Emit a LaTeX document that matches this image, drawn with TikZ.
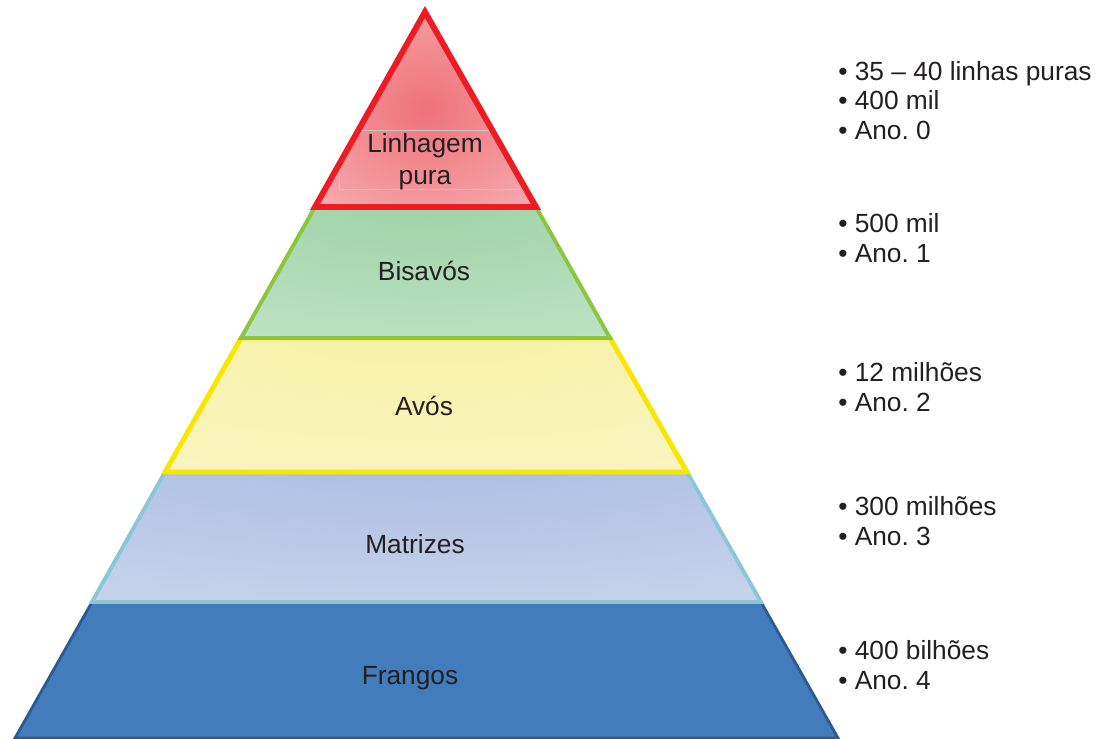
\documentclass[tikz,border=0pt]{standalone}
\usepackage{fontspec}
\setmainfont{Liberation Sans}
\usepackage{xcolor}
\usepackage{tikz}
\usetikzlibrary{
		backgrounds,
		calc
	}
\frenchspacing
\definecolor{textgray}{HTML}{231F20}
\definecolor{red-line}{HTML}{ED1C24}
\definecolor{red-inner}{HTML}{EF7279}
\definecolor{red-outer}{HTML}{FBD5D7}
\definecolor{green-line}{HTML}{8CC63F}
\definecolor{green-inner}{HTML}{9AD1A2}
\definecolor{green-outer}{HTML}{DDF0E1}
\definecolor{yellow-line}{HTML}{F7E600}
\definecolor{yellow-inner}{HTML}{F7F0A4}
\definecolor{yellow-outer}{HTML}{FCF9D6}
\definecolor{lightblue-line}{HTML}{8DC7D7}
\definecolor{lightblue-inner}{HTML}{A9BDE0}
\definecolor{lightblue-outer}{HTML}{DFE6F4}
\definecolor{darkblue-line}{HTML}{2B5B90}
\definecolor{darkblue-fill}{HTML}{437CBB}
\pgfdeclareradialshading{red-glow}{\pgfpoint{0bp}{0bp}}{%
	color(0bp)=(red-inner); color(60bp)=(red-outer); color(100bp)=(red-outer)}
\pgfdeclareradialshading{green-glow}{\pgfpoint{0bp}{35bp}}{%
	color(0bp)=(green-inner); color(95bp)=(green-outer); color(120bp)=(green-outer)}
\pgfdeclareradialshading{yellow-glow}{\pgfpoint{0bp}{35bp}}{%
	color(0bp)=(yellow-inner); color(95bp)=(yellow-outer); color(120bp)=(yellow-outer)}
\pgfdeclareradialshading{lightblue-glow}{\pgfpoint{0bp}{35bp}}{%
	color(0bp)=(lightblue-inner); color(95bp)=(lightblue-outer); color(120bp)=(lightblue-outer)}
\tikzset{%
		layer/.style = {
			line join = miter
		},
		layerlabel/.style = {
			font = \fontsize{18.7}{22.7}\selectfont,
			text = textgray,
			align = center,
			inner sep = 0pt
		},
		infolist/.style = {
			font = \fontsize{18.7}{20.9}\selectfont,
			text = textgray,
			align = left,
			anchor = north west,
			inner sep = 0pt
		}
	}

\begin{document}
\begin{tikzpicture}[x=0.025cm, y=-0.025cm]
		\useasboundingbox (0, 0) rectangle (1100, 738);
		% Layers, from the base upwards
		\draw [
			layer,
			fill = darkblue-fill,
			draw = darkblue-line,
			line width = 2pt
		]
			(15, 738) -- (92, 602) -- (761, 602) -- (838, 738) -- cycle;
		\shadedraw [
			layer,
			shading = lightblue-glow,
			draw = lightblue-line,
			line width = 2.8pt
		]
			(92, 602) -- (165, 472) -- (687, 472) -- (761, 602) -- cycle;
		\shadedraw [
			layer,
			shading = yellow-glow,
			draw = yellow-line,
			line width = 3.5pt
		]
			(165, 472) -- (241, 338) -- (610, 338) -- (687, 472) -- cycle;
		\shadedraw [
			layer,
			shading = green-glow,
			draw = green-line,
			line width = 2.8pt
		]
			(241, 338) -- (315, 207) -- (536, 207) -- (610, 338) -- cycle;
		\shade [shading = red-glow]
			(425, 12) -- (536, 207) -- (315, 207) -- cycle;
		\begin{scope}
			\clip (425, 12) -- (536, 207) -- (315, 207) -- cycle;
			\draw [gray!45, line width = 0.3pt] (339, 130) rectangle (524, 189);
		\end{scope}
		\draw [
			layer,
			draw = red-line,
			line width = 4.2pt
		]
			(425, 12) -- (536, 207) -- (315, 207) -- cycle;

		\node [layerlabel] (pura) at (425, 162) {Linhagem\\pura};
		\node [layerlabel] (bisavos) at (424, 271) {Bisavós};
		\node [layerlabel] (avos) at (424, 406) {Avós};
		\node [layerlabel] (matrizes) at (415, 544) {Matrizes};
		\node [layerlabel] (frangos) at (410, 678) {Frangos};

		% Figures per generation
		\node [infolist] (info-pura) at (838, 61)
			{• 35 – 40 linhas puras\\• 400 mil\\• Ano. 0};
		\node [infolist] (info-bisavos) at (838, 213.5)
			{• 500 mil\\• Ano. 1};
		\node [infolist] (info-avos) at (838, 362.5)
			{• 12 milhões\\• Ano. 2};
		\node [infolist] (info-matrizes) at (838, 496.5)
			{• 300 milhões\\• Ano. 3};
		\node [infolist] (info-frangos) at (838, 640.5)
			{• 400 bilhões\\• Ano. 4};
	\end{tikzpicture}
\end{document}
